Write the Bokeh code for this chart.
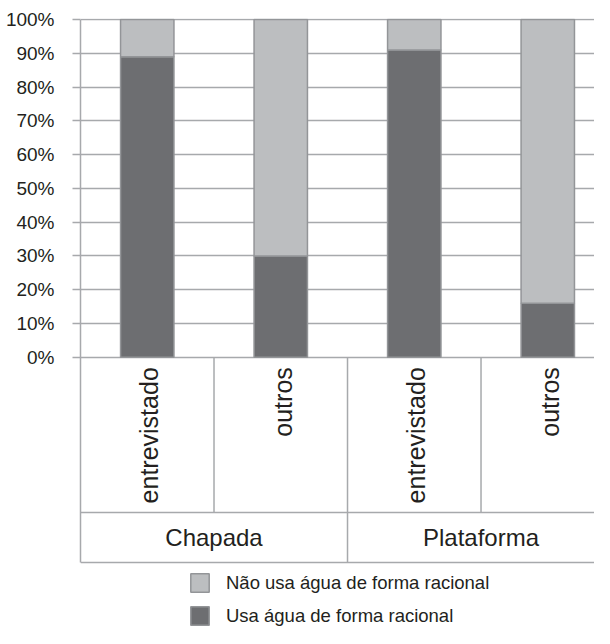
import math
from bokeh.plotting import figure
from bokeh.models import (ColumnDataSource, Range1d, FixedTicker, NumeralTickFormatter,
                          Legend, LegendItem)
from bokeh.core.properties import value
from bokeh.embed import file_html
from bokeh.resources import INLINE

# ---- data ----
groups = ["Chapada", "Plataforma"]
subcats = ["entrevistado", "outros", "entrevistado", "outros"]
usa = [0.89, 0.30, 0.91, 0.16]          # Usa água de forma racional
nao = [0.11, 0.70, 0.09, 0.84]          # Não usa água de forma racional
y_ticks = [0.0, 0.1, 0.2, 0.3, 0.4, 0.5, 0.6, 0.7, 0.8, 0.9, 1.0]
series_labels = ["Usa água de forma racional", "Não usa água de forma racional"]

# ---- style ----
FONT = "Liberation Sans"
DARK = "#6d6e71"
LIGHT = "#bcbec0"
EDGE = "#939598"
GRID = "#a7a9ac"
TEXT = "#231f20"

n = len(subcats)
per_group = n // len(groups)
xs = [i + 0.5 for i in range(n)]
src = ColumnDataSource(dict(x=xs, usa=usa, nao=nao))

# category box depths (in axis units below 0)
ROW1 = -0.460
ROW2 = -0.608

p = figure(width=594, height=628, output_backend="svg", toolbar_location=None,
           x_range=Range1d(0, 3.85), y_range=Range1d(-0.8033, 1.003),
           x_axis_location=None, min_border_left=80, min_border_top=18,
           min_border_bottom=0, min_border_right=0,
           background_fill_color="white", border_fill_color="white")
p.outline_line_color = None
p.xgrid.visible = False

ax = p.yaxis[0]
ax.bounds = (ROW2, 1.0)
ax.ticker = FixedTicker(ticks=y_ticks)
ax.formatter = NumeralTickFormatter(format="0%")
ax.axis_line_color = GRID
ax.axis_line_width = 1.5
ax.major_tick_line_color = GRID
ax.major_tick_line_width = 1.5
ax.major_tick_out = 8
ax.major_tick_in = 0
ax.minor_tick_line_color = None
ax.major_label_standoff = 18
ax.major_label_text_font = FONT
ax.major_label_text_font_size = "19px"
ax.major_label_text_color = TEXT

p.ygrid.ticker = FixedTicker(ticks=y_ticks)
p.ygrid.grid_line_color = GRID
p.ygrid.grid_line_width = 1.5

rs = p.vbar_stack(["usa", "nao"], x="x", width=0.4, source=src,
                  color=[DARK, LIGHT], line_color=EDGE, line_width=1.5)

# category axis boxes
seg_x0, seg_y0, seg_x1, seg_y1 = [], [], [], []
for i in range(1, n):
    bottom = ROW2 if i % per_group == 0 else ROW1
    seg_x0.append(i); seg_x1.append(i); seg_y0.append(0); seg_y1.append(bottom)
seg_x0 += [0, 0]; seg_x1 += [n, n]; seg_y0 += [ROW1, ROW2]; seg_y1 += [ROW1, ROW2]
p.segment(x0=seg_x0, y0=seg_y0, x1=seg_x1, y1=seg_y1, line_color=GRID, line_width=1.5)

p.text(x=xs, y=[0] * n, text=subcats, angle=math.pi / 2, text_align="right",
       text_baseline="middle", y_offset=10, x_offset=2, text_font=value(FONT),
       text_font_size="25px", text_color=TEXT)

gx = [g * per_group + per_group / 2 for g in range(len(groups))]
p.text(x=gx, y=[(ROW1 + ROW2) / 2] * len(groups), text=groups, text_align="center",
       text_baseline="middle", text_font=value(FONT), text_font_size="24px",
       text_color=TEXT)

legend = Legend(items=[LegendItem(label=series_labels[1], renderers=[rs[1]]),
                       LegendItem(label=series_labels[0], renderers=[rs[0]])],
                location=(108, 1), orientation="vertical",
                glyph_width=23, glyph_height=23, spacing=10,
                label_standoff=15, padding=0, margin=0, border_line_color=None,
                background_fill_alpha=0, label_text_font=FONT,
                label_text_font_size="18.5px", label_text_color=TEXT, label_height=23)
p.add_layout(legend)

open("out.html", "w").write(file_html(p, INLINE))
